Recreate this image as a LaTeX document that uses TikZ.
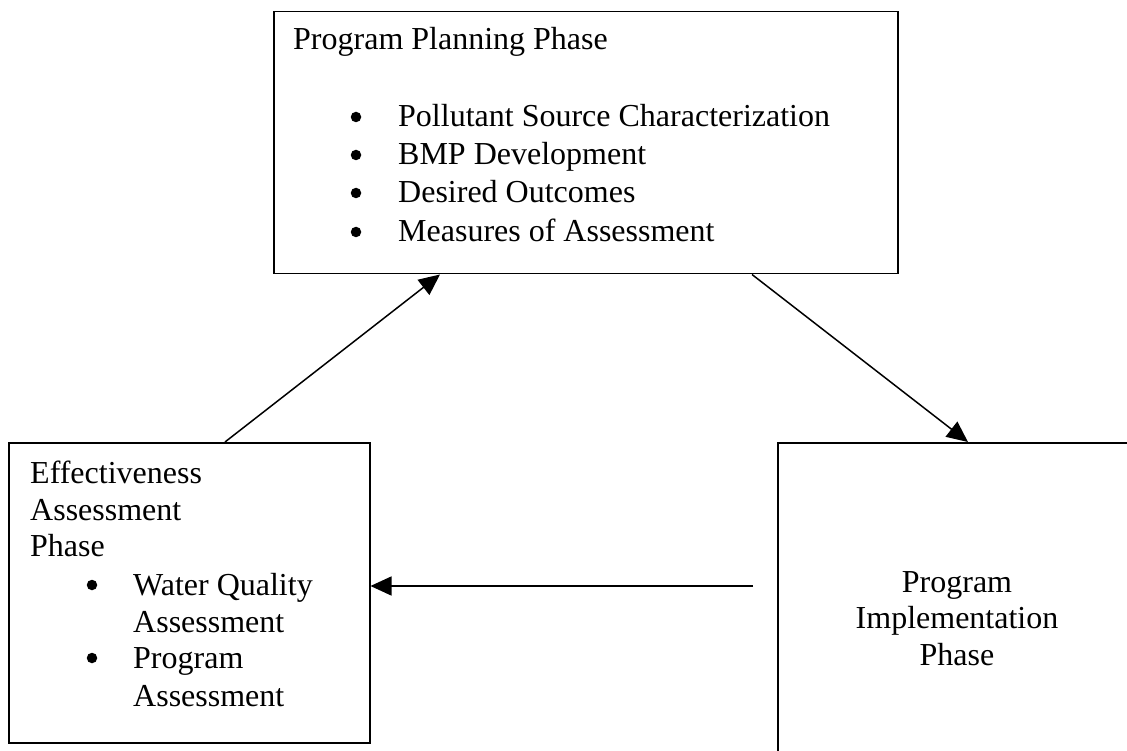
\documentclass[tikz,border=0pt]{standalone}
\usepackage{fontspec}
\setmainfont{Liberation Serif}
\usetikzlibrary{arrows.meta,calc}
\begin{document}
\begin{tikzpicture}[x=1pt,y=-1pt,
  box/.style={draw=black,line width=1.5pt,fill=none,inner sep=0pt,anchor=north west},
  txt/.style={anchor=base west,inner sep=0pt,font=\fontsize{32}{37}\selectfont},
  ctxt/.style={anchor=base,inner sep=0pt,font=\fontsize{32}{37}\selectfont},
  dot/.style={circle,fill=black,inner sep=0pt,minimum size=10.5pt},
  conn/.style={line width=1.5pt,-{Triangle[length=21pt,width=19pt]}}]
\useasboundingbox (0,0) rectangle (1127,751);
\clip (0,0) rectangle (1127,751);
\fill[white] (0,0) rectangle (1127,751);
% boxes
\node[box,minimum width=624pt,minimum height=262pt] (plan) at (273,11) {};
\node[box,minimum width=361pt,minimum height=300pt] (eval) at (8,442) {};
\node[box,minimum width=370pt,minimum height=330pt] (impl) at (777,442) {};
% top box text
\node[txt] (p0) at (293,50) {Program Planning Phase};
\node[dot] (b1) at (356,117) {};
\node[txt] (p1) at (398,127) {Pollutant Source Characterization};
\node[dot] (b2) at (356,155) {};
\node[txt] (p2) at (398,165) {BMP Development};
\node[dot] (b3) at (356,193) {};
\node[txt] (p3) at (398,203) {Desired Outcomes};
\node[dot] (b4) at (356,232) {};
\node[txt] (p4) at (398,242) {Measures of Assessment};
% left box text
\node[txt] (e0) at (30,483) {Effectiveness};
\node[txt] (e1) at (30,520) {Assessment};
\node[txt] (e2) at (30,556) {Phase};
\node[dot] (eb1) at (92,585) {};
\node[txt] (e3) at (133,595) {Water Quality};
\node[txt] (e4) at (133,632) {Assessment};
\node[dot] (eb2) at (92,658) {};
\node[txt] (e5) at (133,668) {Program};
\node[txt] (e6) at (133,706) {Assessment};
% right box text
\node[ctxt] (i0) at (957,592) {Program};
\node[ctxt] (i1) at (957,628) {Implementation};
\node[ctxt] (i2) at (957,665) {Phase};
% connectors
\coordinate (a1s) at ($(eval.north west)+(217,0)$);
\coordinate (a1e) at ($(plan.south west)+(167,0)$);
\coordinate (a2s) at ($(plan.south west)+(479,0)$);
\coordinate (a2e) at ($(impl.north west)+(191,0)$);
\coordinate (a3s) at (753,586);
\coordinate (a3e) at (eval.east |- a3s);
\draw[conn] (a1s) -- (a1e);
\draw[conn] (a2s) -- (a2e);
\draw[conn] (a3s) -- (a3e);
\end{tikzpicture}
\end{document}
